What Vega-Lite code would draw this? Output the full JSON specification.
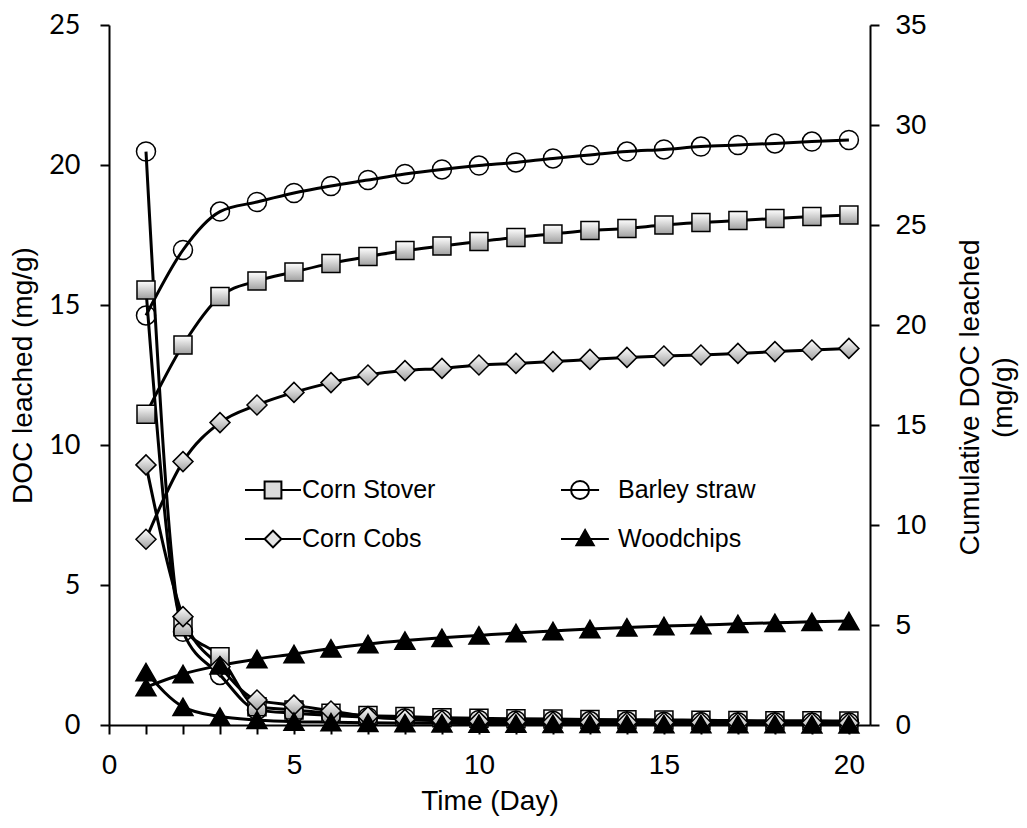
{
  "$schema": "https://vega.github.io/schema/vega-lite/v6.json",
  "autosize": {"type": "none"},
  "padding": {"left": 109, "top": 25, "right": 157, "bottom": 103},
  "width": 761,
  "height": 700,
  "background": "white",
  "config": {
    "view": {"stroke": null},
    "axis": {
      "grid": false,
      "domainColor": "black",
      "domainWidth": 2,
      "tickColor": "black",
      "tickWidth": 2,
      "tickSize": 9,
      "labelFont": "Liberation Sans",
      "labelFontSize": 28,
      "labelColor": "black",
      "titleFont": "Liberation Sans",
      "titleFontSize": 28,
      "titleFontWeight": "normal",
      "titleColor": "black"
    }
  },
  "data": {
    "values": [
      {"material": "Corn Stover", "day": 1, "daily": 15.54, "cumulative": 15.54},
      {"material": "Corn Stover", "day": 2, "daily": 3.51, "cumulative": 19.0},
      {"material": "Corn Stover", "day": 3, "daily": 2.44, "cumulative": 21.42},
      {"material": "Corn Stover", "day": 4, "daily": 0.65, "cumulative": 22.2},
      {"material": "Corn Stover", "day": 5, "daily": 0.54, "cumulative": 22.65},
      {"material": "Corn Stover", "day": 6, "daily": 0.42, "cumulative": 23.08},
      {"material": "Corn Stover", "day": 7, "daily": 0.34, "cumulative": 23.42},
      {"material": "Corn Stover", "day": 8, "daily": 0.3, "cumulative": 23.72},
      {"material": "Corn Stover", "day": 9, "daily": 0.26, "cumulative": 23.95},
      {"material": "Corn Stover", "day": 10, "daily": 0.24, "cumulative": 24.17},
      {"material": "Corn Stover", "day": 11, "daily": 0.22, "cumulative": 24.38},
      {"material": "Corn Stover", "day": 12, "daily": 0.21, "cumulative": 24.55},
      {"material": "Corn Stover", "day": 13, "daily": 0.2, "cumulative": 24.72},
      {"material": "Corn Stover", "day": 14, "daily": 0.19, "cumulative": 24.83},
      {"material": "Corn Stover", "day": 15, "daily": 0.18, "cumulative": 25.0},
      {"material": "Corn Stover", "day": 16, "daily": 0.17, "cumulative": 25.12},
      {"material": "Corn Stover", "day": 17, "daily": 0.16, "cumulative": 25.22},
      {"material": "Corn Stover", "day": 18, "daily": 0.15, "cumulative": 25.33},
      {"material": "Corn Stover", "day": 19, "daily": 0.15, "cumulative": 25.42},
      {"material": "Corn Stover", "day": 20, "daily": 0.14, "cumulative": 25.5},
      {"material": "Barley straw", "day": 1, "daily": 20.48, "cumulative": 20.48},
      {"material": "Barley straw", "day": 2, "daily": 3.33, "cumulative": 23.75},
      {"material": "Barley straw", "day": 3, "daily": 1.79, "cumulative": 25.67},
      {"material": "Barley straw", "day": 4, "daily": 0.54, "cumulative": 26.15},
      {"material": "Barley straw", "day": 5, "daily": 0.42, "cumulative": 26.6},
      {"material": "Barley straw", "day": 6, "daily": 0.34, "cumulative": 26.95},
      {"material": "Barley straw", "day": 7, "daily": 0.28, "cumulative": 27.25},
      {"material": "Barley straw", "day": 8, "daily": 0.24, "cumulative": 27.55},
      {"material": "Barley straw", "day": 9, "daily": 0.2, "cumulative": 27.78},
      {"material": "Barley straw", "day": 10, "daily": 0.18, "cumulative": 27.97},
      {"material": "Barley straw", "day": 11, "daily": 0.16, "cumulative": 28.13},
      {"material": "Barley straw", "day": 12, "daily": 0.15, "cumulative": 28.33},
      {"material": "Barley straw", "day": 13, "daily": 0.14, "cumulative": 28.5},
      {"material": "Barley straw", "day": 14, "daily": 0.13, "cumulative": 28.67},
      {"material": "Barley straw", "day": 15, "daily": 0.12, "cumulative": 28.78},
      {"material": "Barley straw", "day": 16, "daily": 0.11, "cumulative": 28.92},
      {"material": "Barley straw", "day": 17, "daily": 0.1, "cumulative": 29.0},
      {"material": "Barley straw", "day": 18, "daily": 0.1, "cumulative": 29.08},
      {"material": "Barley straw", "day": 19, "daily": 0.09, "cumulative": 29.17},
      {"material": "Barley straw", "day": 20, "daily": 0.09, "cumulative": 29.25},
      {"material": "Corn Cobs", "day": 1, "daily": 9.29, "cumulative": 9.29},
      {"material": "Corn Cobs", "day": 2, "daily": 3.87, "cumulative": 13.17},
      {"material": "Corn Cobs", "day": 3, "daily": 2.08, "cumulative": 15.12},
      {"material": "Corn Cobs", "day": 4, "daily": 0.89, "cumulative": 16.0},
      {"material": "Corn Cobs", "day": 5, "daily": 0.71, "cumulative": 16.63},
      {"material": "Corn Cobs", "day": 6, "daily": 0.5, "cumulative": 17.12},
      {"material": "Corn Cobs", "day": 7, "daily": 0.3, "cumulative": 17.5},
      {"material": "Corn Cobs", "day": 8, "daily": 0.2, "cumulative": 17.72},
      {"material": "Corn Cobs", "day": 9, "daily": 0.15, "cumulative": 17.83},
      {"material": "Corn Cobs", "day": 10, "daily": 0.13, "cumulative": 18.0},
      {"material": "Corn Cobs", "day": 11, "daily": 0.12, "cumulative": 18.08},
      {"material": "Corn Cobs", "day": 12, "daily": 0.11, "cumulative": 18.17},
      {"material": "Corn Cobs", "day": 13, "daily": 0.1, "cumulative": 18.28},
      {"material": "Corn Cobs", "day": 14, "daily": 0.1, "cumulative": 18.38},
      {"material": "Corn Cobs", "day": 15, "daily": 0.09, "cumulative": 18.45},
      {"material": "Corn Cobs", "day": 16, "daily": 0.09, "cumulative": 18.5},
      {"material": "Corn Cobs", "day": 17, "daily": 0.08, "cumulative": 18.58},
      {"material": "Corn Cobs", "day": 18, "daily": 0.08, "cumulative": 18.67},
      {"material": "Corn Cobs", "day": 19, "daily": 0.08, "cumulative": 18.75},
      {"material": "Corn Cobs", "day": 20, "daily": 0.07, "cumulative": 18.83},
      {"material": "Woodchips", "day": 1, "daily": 1.89, "cumulative": 1.89},
      {"material": "Woodchips", "day": 2, "daily": 0.65, "cumulative": 2.55},
      {"material": "Woodchips", "day": 3, "daily": 0.3, "cumulative": 2.98},
      {"material": "Woodchips", "day": 4, "daily": 0.18, "cumulative": 3.3},
      {"material": "Woodchips", "day": 5, "daily": 0.12, "cumulative": 3.55},
      {"material": "Woodchips", "day": 6, "daily": 0.1, "cumulative": 3.83},
      {"material": "Woodchips", "day": 7, "daily": 0.08, "cumulative": 4.05},
      {"material": "Woodchips", "day": 8, "daily": 0.07, "cumulative": 4.22},
      {"material": "Woodchips", "day": 9, "daily": 0.06, "cumulative": 4.36},
      {"material": "Woodchips", "day": 10, "daily": 0.05, "cumulative": 4.48},
      {"material": "Woodchips", "day": 11, "daily": 0.05, "cumulative": 4.6},
      {"material": "Woodchips", "day": 12, "daily": 0.04, "cumulative": 4.7},
      {"material": "Woodchips", "day": 13, "daily": 0.04, "cumulative": 4.8},
      {"material": "Woodchips", "day": 14, "daily": 0.04, "cumulative": 4.88},
      {"material": "Woodchips", "day": 15, "daily": 0.03, "cumulative": 4.95},
      {"material": "Woodchips", "day": 16, "daily": 0.03, "cumulative": 5.0},
      {"material": "Woodchips", "day": 17, "daily": 0.03, "cumulative": 5.06},
      {"material": "Woodchips", "day": 18, "daily": 0.03, "cumulative": 5.11},
      {"material": "Woodchips", "day": 19, "daily": 0.02, "cumulative": 5.16},
      {"material": "Woodchips", "day": 20, "daily": 0.02, "cumulative": 5.2}
    ]
  },
  "encoding": {
    "x": {
      "field": "day", "type": "quantitative",
      "scale": {"domain": [0, 20.57], "nice": false, "zero": false},
      "axis": {
        "title": "Time (Day)",
        "values": [0,1,2,3,4,5,6,7,8,9,10,11,12,13,14,15,16,17,18,19,20],
        "labelExpr": "datum.value % 5 === 0 ? datum.label : ''",
        "labelPadding": 17,
        "titlePadding": 8,
        "labelFlush": false,
        "labelOverlap": false
      }
    }
  },
  "layer": [
    {
      "mark": {"type": "line", "stroke": "black", "strokeWidth": 3, "interpolate": "monotone"},
      "encoding": {
        "detail": {"field": "material"},
        "y": {
          "field": "daily", "type": "quantitative",
          "scale": {"domain": [0, 25], "nice": false},
          "axis": {
            "orient": "left",
            "title": "DOC leached (mg/g)",
            "values": [0, 5, 10, 15, 20, 25],
            "labelFont": "Lato",
            "labelFontSize": 27,
            "labelPadding": 20,
            "titlePadding": 11
          }
        }
      }
    },
    {
      "mark": {"type": "line", "stroke": "black", "strokeWidth": 3, "interpolate": "monotone"},
      "encoding": {
        "detail": {"field": "material"},
        "y": {
          "field": "cumulative", "type": "quantitative",
          "scale": {"domain": [0, 35], "nice": false},
          "axis": {
            "orient": "right",
            "title": ["Cumulative DOC leached", "(mg/g)"],
            "values": [0, 5, 10, 15, 20, 25, 30, 35],
            "labelPadding": 16,
            "titleAngle": 270,
            "titleBaseline": "top",
            "titleAlign": "center",
            "titleLineHeight": 33,
            "titleX": 86,
            "titleY": 372
          }
        }
      }
    },
    {
      "mark": {"type": "point", "filled": true, "stroke": "black", "strokeWidth": 1.5, "opacity": 1},
      "encoding": {
        "y": {"field": "daily", "type": "quantitative", "scale": {"domain": [0, 25], "nice": false}, "axis": null},
        "shape": {
          "condition": [
            {"test": "datum.material === 'Corn Stover'", "value": "square"},
            {"test": "datum.material === 'Barley straw'", "value": "circle"},
            {"test": "datum.material === 'Corn Cobs'", "value": "diamond"}
          ],
          "value": "triangle-up"
        },
        "size": {
          "condition": [
            {"test": "datum.material === 'Corn Stover'", "value": 324},
            {"test": "datum.material === 'Barley straw'", "value": 361}
          ],
          "value": 400
        },
        "fill": {
          "condition": [
            {"test": "datum.material === 'Woodchips'", "value": "black"},
            {"test": "datum.material === 'Barley straw'", "value": "transparent"}
          ],
          "value": {"gradient": "linear", "x1": 0, "y1": 0, "x2": 0, "y2": 1, "stops": [{"offset": 0, "color": "#ffffff"}, {"offset": 1, "color": "#a0a0a0"}]}
        }
      }
    },
    {
      "mark": {"type": "point", "filled": true, "stroke": "black", "strokeWidth": 1.5, "opacity": 1},
      "encoding": {
        "y": {"field": "cumulative", "type": "quantitative", "scale": {"domain": [0, 35], "nice": false}, "axis": null},
        "shape": {
          "condition": [
            {"test": "datum.material === 'Corn Stover'", "value": "square"},
            {"test": "datum.material === 'Barley straw'", "value": "circle"},
            {"test": "datum.material === 'Corn Cobs'", "value": "diamond"}
          ],
          "value": "triangle-up"
        },
        "size": {
          "condition": [
            {"test": "datum.material === 'Corn Stover'", "value": 324},
            {"test": "datum.material === 'Barley straw'", "value": 361}
          ],
          "value": 400
        },
        "fill": {
          "condition": [
            {"test": "datum.material === 'Woodchips'", "value": "black"},
            {"test": "datum.material === 'Barley straw'", "value": "transparent"}
          ],
          "value": {"gradient": "linear", "x1": 0, "y1": 0, "x2": 0, "y2": 1, "stops": [{"offset": 0, "color": "#ffffff"}, {"offset": 1, "color": "#a0a0a0"}]}
        }
      }
    },
    {
      "transform": [{"filter": "false"}],
      "mark": {"type": "point", "filled": true, "strokeWidth": 2, "opacity": 1},
      "encoding": {
        "y": {"field": "daily", "type": "quantitative", "scale": {"domain": [0, 25], "nice": false}, "axis": null},
        "shape": {
          "field": "material", "type": "nominal",
          "scale": {
            "domain": ["Corn Stover", "Barley straw", "Corn Cobs", "Woodchips"],
            "range": [
              "M-1,0H-0.3M0.3,0H1M-0.3,-0.3H0.3V0.3H-0.3Z",
              "M-1,0H0.36M-0.64,0A0.32,0.32 0 1,0 0,0A0.32,0.32 0 1,0 -0.64,0Z",
              "M-1,0H-0.3M0.3,0H1M0,-0.3L0.3,0L0,0.3L-0.3,0Z",
              "M-1,0H0.71M-0.14,-0.32L0.17,0.22L-0.45,0.22Z"
            ]
          },
          "legend": {
            "orient": "none",
            "direction": "horizontal",
            "legendX": 135,
            "legendY": 436,
            "columns": 2,
            "title": null,
            "padding": 0,
            "labelFont": "Liberation Sans",
            "labelFontSize": 25,
            "labelColor": "black",
            "labelOffset": 0,
            "symbolSize": 3136,
            "symbolStrokeWidth": 2,
            "columnPadding": 121,
            "rowPadding": 7
          }
        },
        "fill": {
          "field": "material", "type": "nominal",
          "scale": {
            "domain": ["Corn Stover", "Barley straw", "Corn Cobs", "Woodchips"],
            "range": ["#dcdcdc", "transparent", "#e4e4e4", "black"]
          },
          "legend": {
            "orient": "none",
            "direction": "horizontal",
            "legendX": 135,
            "legendY": 436,
            "columns": 2,
            "title": null,
            "padding": 0,
            "labelFont": "Liberation Sans",
            "labelFontSize": 25,
            "labelColor": "black",
            "labelOffset": 0,
            "symbolSize": 3136,
            "symbolStrokeWidth": 2,
            "columnPadding": 121,
            "rowPadding": 7
          }
        },
        "stroke": {
          "field": "material", "type": "nominal",
          "scale": {
            "domain": ["Corn Stover", "Barley straw", "Corn Cobs", "Woodchips"],
            "range": ["black", "black", "black", "black"]
          },
          "legend": {
            "orient": "none",
            "direction": "horizontal",
            "legendX": 135,
            "legendY": 436,
            "columns": 2,
            "title": null,
            "padding": 0,
            "labelFont": "Liberation Sans",
            "labelFontSize": 25,
            "labelColor": "black",
            "labelOffset": 0,
            "symbolSize": 3136,
            "symbolStrokeWidth": 2,
            "columnPadding": 121,
            "rowPadding": 7
          }
        }
      }
    }
  ],
  "resolve": {"scale": {"y": "independent"}, "axis": {"y": "independent"}}
}
